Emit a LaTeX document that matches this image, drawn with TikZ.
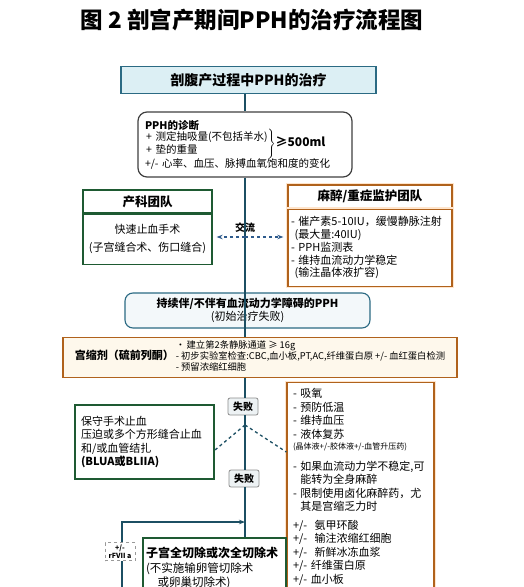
\documentclass[tikz,border=0pt]{standalone}
\usepackage{fontspec}
\setmainfont{Noto Sans CJK SC}
\usepackage{tikz}
\usetikzlibrary{positioning, arrows.meta, calc}

\definecolor{trunkcol}{HTML}{1C4F63}
\definecolor{topfill}{HTML}{DCEFF4}
\definecolor{topline}{HTML}{2B6A83}
\definecolor{obgreen}{HTML}{1E5A32}
\definecolor{anbrown}{HTML}{B0621C}
\definecolor{creamfill}{HTML}{FEF8EC}
\definecolor{paleblue}{HTML}{F3F8FA}
\definecolor{failfill}{HTML}{EDF2F4}
\definecolor{xblue}{HTML}{2D5A8C}

\begin{document}
\begin{tikzpicture}[x=1pt, y=-1pt,
    topbox/.style={draw=topline, line width=1.8pt, fill=topfill, minimum width=255, minimum height=27, font=\fontsize{14}{16}\selectfont\bfseries},
    diagbox/.style={draw=black!75, line width=1.2pt, rounded corners=9pt, minimum width=214, minimum height=65, text width=200, align=left, inner sep=5pt, font=\fontsize{10.5}{13.5}\selectfont},
    obhead/.style={draw=obgreen, line width=1.3pt, fill=white, minimum width=129, minimum height=23, font=\fontsize{12.5}{14}\selectfont\bfseries},
    obbody/.style={draw=obgreen, line width=1.3pt, fill=white, minimum width=129, minimum height=50, align=center, font=\fontsize{11}{13}\selectfont},
    anhead/.style={draw=anbrown, line width=1.3pt, fill=white, preaction={draw=orange!20, line width=4pt}, minimum width=164, minimum height=23, font=\fontsize{12.5}{14}\selectfont\bfseries},
    anbody/.style={draw=anbrown, line width=1.3pt, fill=white, preaction={draw=orange!20, line width=4pt}, minimum width=164, minimum height=77, text width=158, align=left, inner sep=3pt, font=\fontsize{11}{12.7}\selectfont},
    pbox/.style={draw=topline, line width=1.1pt, rounded corners=8pt, fill=paleblue, minimum width=245, minimum height=35, align=center, font=\fontsize{11}{13}\selectfont},
    kbox/.style={draw=anbrown, line width=1.3pt, fill=creamfill, minimum width=394, minimum height=39},
    failbox/.style={draw=black!45, line width=0.8pt, rounded corners=2pt, fill=failfill, minimum width=30, minimum height=17, inner sep=1pt, font=\fontsize{10}{12}\selectfont\bfseries},
    gbox/.style={draw=obgreen, line width=1.3pt, fill=white, minimum width=139, minimum height=74, text width=127, align=left, font=\fontsize{11}{13.5}\selectfont},
    carebox/.style={draw=anbrown, line width=1.3pt, fill=white, preaction={draw=orange!20, line width=4pt}, minimum width=147, text width=135, align=left, inner sep=6pt, font=\fontsize{11}{13.5}\selectfont},
    hystbox/.style={draw=obgreen, line width=2pt, fill=white, minimum width=143, minimum height=60, text width=137, align=left, inner sep=3pt, font=\fontsize{11.5}{14.2}\selectfont},
    rfbox/.style={draw=black!40, dashed, line width=0.6pt, fill=white, minimum width=30, minimum height=18, inner sep=1pt, align=center, font=\fontsize{7}{8}\selectfont\bfseries},
    trunk/.style={draw=trunkcol, line width=1.5pt},
    splitline/.style={draw=trunkcol, line width=1.3pt, dashed},
    xarrow/.style={draw=xblue, line width=1.1pt, dashed, -{Stealth[length=6pt]}, shorten >=4pt}]

    \useasboundingbox[fill=white] (0,0) rectangle (523,587);

    \node[font=\fontsize{22.5}{25}\selectfont\bfseries] (title) at (252,20) {图 2 剖宫产期间PPH的治疗流程图};

    \node[topbox] (top) at (248.5,80) {剖腹产过程中PPH的治疗};
    \node[diagbox] (diag) at (245,144.5) {\textbf{PPH的诊断}\\[-2pt]
        $\left.\begin{tabular}{@{}l@{}}+ 测定抽吸量(不包括羊水)\\+ 垫的重量\end{tabular}\right\}${\fontsize{12}{14}\selectfont\bfseries ≥500ml}\\[-2pt]
        +/- 心率、血压、脉搏血氧饱和度的变化};

    % teams
    \node[obhead] (obhead) at (147.5,201.5) {产科团队};
    \node[obbody, below=0pt of obhead] (obbody) {快速止血手术\\[5pt](子宫缝合术、伤口缝合)};
    \node[anhead] (anhead) at (370,196.5) {麻醉/重症监护团队};
    \node[anbody, below=0pt of anhead] (anbody) {- 催产素5-10IU，缓慢静脉注射\\
        \ (最大量:40IU)\\- PPH监测表\\- 维持血流动力学稳定\\\ (输注晶体液扩容)};

    \coordinate (trunkx) at (245,0);
    \coordinate (xc) at (245,237);
    \node[font=\fontsize{10}{12}\selectfont\bfseries] (xlabel) at (245,228) {交流};

    \node[pbox] (persist) at (247.5,310.5) {\textbf{持续伴/不伴有血流动力学障碍的PPH}\\(初始治疗失败)};
    \node[kbox] (utero) at (260,357.5) {{\fontsize{11}{13}\selectfont\bfseries 宫缩剂（硫前列酮）}\hspace{2pt}{\fontsize{9.3}{10.5}\selectfont\begin{tabular}[c]{@{}l@{}}·\,建立第2条静脉通道 ≥ 16g\\- 初步实验室检查:CBC,血小板,PT,AC,纤维蛋白原 +/- 血红蛋白检测\\- 预留浓缩红细胞\end{tabular}}};

    \node[failbox] (fail1) at (243,406.5) {失败};
    \node[failbox] (fail2) at (244,478.5) {失败};
    \coordinate (split) at (245,425);

    \node[gbox] (cons) at (144.5,442) {保守手术止血\\压迫或多个方形缝合止血\\和/或血管结扎\\\textbf{(BLUA或BLIIA)}};
    \node[carebox, anchor=north] (care) at (360.5,382) {- 吸氧\\- 预防低温\\- 维持血压\\- 液体复苏\\[-2pt]
        {\fontsize{8}{10}\selectfont (晶体液+/-胶体液+/-血管升压药)}\\[7pt]
        - 如果血流动力学不稳定,可\\\ \ 能转为全身麻醉\\- 限制使用卤化麻醉药，尤\\\ \ 其是宫缩乏力时\\[5pt]
        +/-\ \ 氨甲环酸\\+/-\ \ 输注浓缩红细胞\\+/-\ \ 新鲜冰冻血浆\\+/- 纤维蛋白原\\+/- 血小板};

    \coordinate (feed) at (122,600);
    \coordinate (merge) at (245,522);
    \draw[trunk, -{Stealth[length=6pt]}] (feed) |- (merge);
    \node[rfbox] (rf) at (120,551.5) {+/-\\rFVII a};

    \node[hystbox, anchor=north west] (hyst) at (142,537) {{\fontsize{12}{14.2}\selectfont\bfseries 子宫全切除或次全切除术}\\(不实施输卵管切除术\\\quad 或卵巢切除术)};

    % trunk
    \draw[trunk] (top.south -| trunkx) -- (diag.north -| trunkx);
    \draw[trunk] (diag.south -| trunkx) -- (utero.north -| trunkx);
    \draw[trunk] (utero.south -| trunkx) -- (fail1.north -| trunkx);
    \draw[trunk] (fail1.south -| trunkx) -- (fail2.north -| trunkx);
    \draw[trunk] (fail2.south -| trunkx) -- (hyst.north -| trunkx);

    \draw[xarrow] (xc) -- (obbody.east |- xc);
    \draw[xarrow] (xc) -- (anbody.west |- xc);

    \draw[splitline] (split) -- ($(cons.north east)!0.61!(cons.south east)$);
    \draw[splitline] (split) -- ([yshift=-70pt]care.north west);
\end{tikzpicture}
\end{document}
